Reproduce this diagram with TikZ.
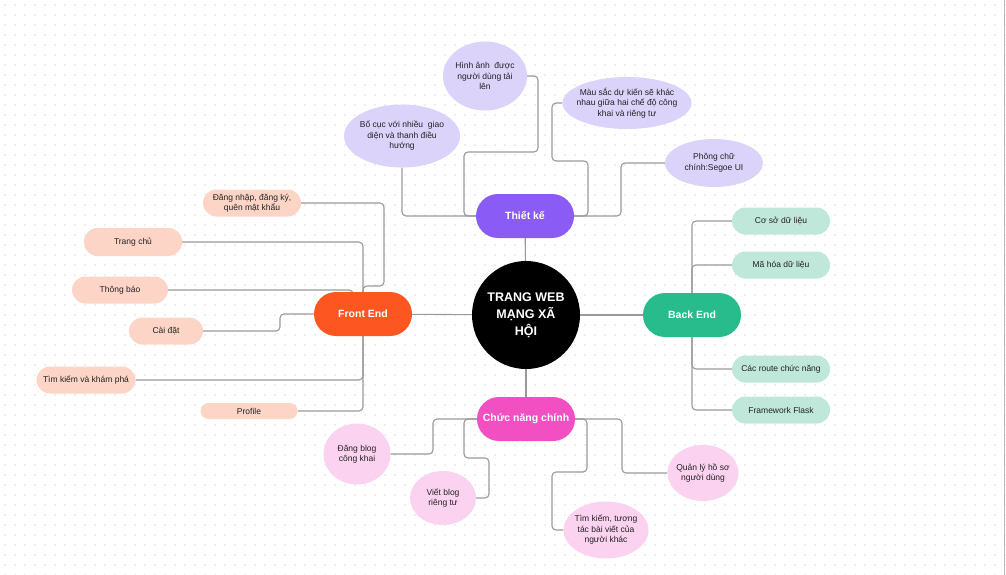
\documentclass[tikz,border=0pt]{standalone}
\usepackage{fontspec}
\setmainfont{Liberation Sans}
\usetikzlibrary{shapes.geometric}
\definecolor{dotc}{HTML}{DEDEDE}
\definecolor{linegray}{HTML}{9A9A9A}
\definecolor{lav}{HTML}{DCD3FB}
\definecolor{peach}{HTML}{FDD5C6}
\definecolor{mint}{HTML}{BFE8DA}
\definecolor{pinkl}{HTML}{FBD2EF}
\definecolor{cTK}{HTML}{8A5CF5}
\definecolor{cFE}{HTML}{FD5621}
\definecolor{cBE}{HTML}{28BB8C}
\definecolor{cCN}{HTML}{F14FC2}
\definecolor{txt}{HTML}{222222}
\pgfdeclarelayer{grid}
\pgfdeclarelayer{lines}
\pgfsetlayers{grid,lines,main}
\begin{document}
\begin{tikzpicture}[x=1pt,y=-1pt,
  conn/.style={draw=linegray, line width=1.1pt, rounded corners=4pt},
  mainnode/.style={rectangle, rounded corners=22pt, minimum width=98pt, minimum height=44pt, inner sep=0pt, text=white, font=\bfseries\fontsize{10.5}{12}\selectfont},
  pill/.style={rectangle, rounded corners=13.5pt, minimum height=27pt, inner sep=0pt, align=center, text=txt, font=\fontsize{8.5}{10}\selectfont},
  ell/.style={ellipse, inner sep=0pt},
  lbl/.style={align=center, text=txt, inner sep=0pt, font=\fontsize{8.5}{10.5}\selectfont}
]
\useasboundingbox (0,0) rectangle (1006,575);
\begin{pgfonlayer}{grid}
\fill[white] (0,0) rectangle (1006,575);
\foreach \x in {5,15,...,1005} {\foreach \y in {5,15,...,575} {\fill[dotc] (\x,\y) circle (0.9);}}
\draw[linegray!70, line width=1pt] (1004,0) -- (1004,575);
\end{pgfonlayer}

% central topic and main branches
\node[circle, fill=black, minimum size=108pt, inner sep=0pt, text=white, align=center, font=\bfseries\fontsize{12.5}{17}\selectfont] (c) at (526,315) {TRANG WEB\\MẠNG XÃ\\HỘI};
\node[mainnode, fill=cTK] (tk) at (525,216) {Thiết kế};
\node[mainnode, fill=cFE] (fe) at (363,314) {Front End};
\node[mainnode, fill=cBE] (be) at (692,315) {Back End};
\node[mainnode, fill=cCN] (cn) at (526,419) {Chức năng chính};

% Thiet ke children
\node[ell, fill=lav, minimum width=84pt, minimum height=69pt, label={[lbl]center:{Hình ảnh\ \ được\\người dùng tải\\lên}}] (img) at (485,76) {};
\node[ell, fill=lav, minimum width=116pt, minimum height=63pt, label={[lbl]center:{Bố cục với nhiều\ \ giao\\diện và thanh điều\\hướng}}] (bc) at (402,136) {};
\node[ell, fill=lav, minimum width=129pt, minimum height=52pt, label={[lbl]center:{Màu sắc dự kiến sẽ khác\\nhau giữa hai chế độ công\\khai và riêng tư}}] (ms) at (627,103) {};
\node[ell, fill=lav, minimum width=98pt, minimum height=48pt, label={[lbl]center:{Phông chữ\\chính:Segoe UI}}] (pc) at (714,163) {};

% Front End children
\node[pill, fill=peach, minimum width=98pt, font=\fontsize{8.5}{9.5}\selectfont] (dn) at (252,203) {Đăng nhập, đăng ký,\\quên mật khẩu};
\node[pill, fill=peach, minimum width=98pt, minimum height=28pt] (tc) at (133,242) {Trang chủ};
\node[pill, fill=peach, minimum width=96pt] (tb) at (120,290) {Thông báo};
\node[pill, fill=peach, minimum width=74pt] (cd) at (166,331) {Cài đặt};
\node[pill, fill=peach, minimum width=99pt] (tkp) at (86,380) {Tìm kiếm và khám phá};
\node[pill, fill=peach, minimum width=97pt, minimum height=16pt, rounded corners=8pt] (pf) at (249,411) {Profile};

% Back End children
\node[pill, fill=mint, minimum width=98pt] (csdl) at (781,221) {Cơ sở dữ liệu};
\node[pill, fill=mint, minimum width=98pt] (mh) at (781,265) {Mã hóa dữ liệu};
\node[pill, fill=mint, minimum width=98pt] (cr) at (781,369) {Các route chức năng};
\node[pill, fill=mint, minimum width=98pt] (ff) at (781,410) {Framework Flask};

% Chuc nang chinh children
\node[ell, fill=pinkl, minimum width=67pt, minimum height=61pt, label={[lbl]center:{Đăng blog\\công khai}}] (db) at (357,454) {};
\node[ell, fill=pinkl, minimum width=66pt, minimum height=54pt, label={[lbl]center:{Viết blog\\riêng tư}}] (vb) at (443,498) {};
\node[ell, fill=pinkl, minimum width=71pt, minimum height=56pt, label={[lbl]center:{Quản lý hồ sơ\\người dùng}}] (ql) at (703,473) {};
\node[ell, fill=pinkl, minimum width=85pt, minimum height=57pt, label={[lbl]center:{Tìm kiếm, tương\\tác bài viết của\\người khác}}] (tkt) at (606,530) {};

% connectors, under the nodes
\begin{pgfonlayer}{lines}
\draw[conn] (c) -- (tk);
\draw[conn] (c) -- (fe);
\draw[conn] (c) -- (be);
\draw[conn] (c) -- (cn);

\draw[conn] (img.east) -- (538,76) -- (538,152) -- (464,152) -- (464,216) -- (tk.west);
\draw[conn] (bc.south) -- (402,216) -- (tk.west);
\draw[conn] (ms.west) -- (552,103) -- (552,161) -- (588,161) -- (588,216) -- (tk.east);
\draw[conn] (pc.west) -- (621,163) -- (621,216) -- (tk.east);

\draw[conn] (dn.east) -- (384,203) -- (384,286) -- (363,286) -- (fe.north);
\draw[conn] (tc.east) -- (363,242) -- (fe.north);
\draw[conn] (tb.east) -- (353,290) -- ([xshift=-10pt]fe.north);
\draw[conn] (cd.east) -- (280,331) -- (280,314) -- (fe.west);
\draw[conn] (tkp.east) -| (fe.south);
\draw[conn] (pf.east) -| (fe.south);

\draw[conn] (be.north) |- (csdl.west);
\draw[conn] (be.north) |- (mh.west);
\draw[conn] (be.south) |- (cr.west);
\draw[conn] (be.south) |- (ff.west);

\draw[conn] (db.east) -- (433,454) -- (433,419) -- (cn.west);
\draw[conn] (vb.east) -- (489,498) -- (489,458) -- (464,458) -- (464,419) -- (cn.west);
\draw[conn] (ql.west) -- (622,473) -- (622,419) -- (cn.east);
\draw[conn] (tkt.west) -- (552,530) -- (552,472) -- (587,472) -- (587,419) -- (cn.east);
\end{pgfonlayer}
\end{tikzpicture}
\end{document}
